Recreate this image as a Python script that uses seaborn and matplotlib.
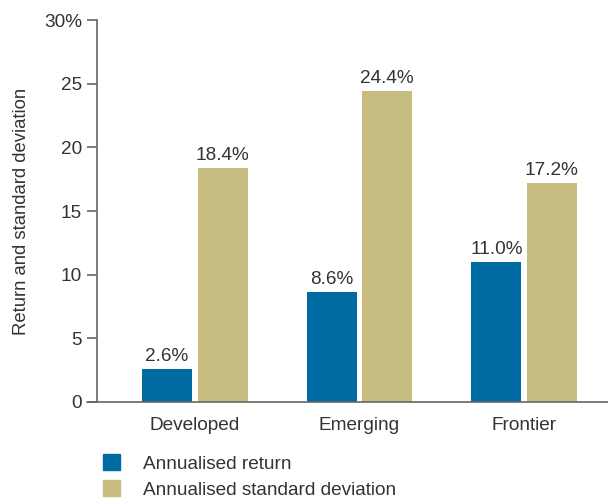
import matplotlib
matplotlib.use("Agg")
import matplotlib.pyplot as plt
import matplotlib.patches as mpatches
import seaborn as sns
import pandas as pd

markets = ["Developed", "Emerging", "Frontier"]
annual_return = [2.6, 8.6, 11.0]
annual_std = [18.4, 24.4, 17.2]
series_names = ["Annualised return", "Annualised standard deviation"]
colors = ["#006ba3", "#c8bd80"]

df = pd.DataFrame({
    "market": markets * 2,
    "series": [series_names[0]] * 3 + [series_names[1]] * 3,
    "value": annual_return + annual_std,
})

sns.set_style("white")
plt.rcParams["font.family"] = ["Liberation Sans", "DejaVu Sans"]
text_col = "#333333"
axis_col = "#666666"
fs = 13.7

fig = plt.figure(figsize=(6.08, 4.98), dpi=100)
ax = fig.add_axes([0.160, 0.1928, 0.840, 0.767])

sns.barplot(data=df, x="market", y="value", hue="series", palette=colors,
            width=0.675, gap=0.098, saturation=1, linewidth=0, legend=False, ax=ax)

for cont in ax.containers:
    ax.bar_label(cont, fmt="%.1f%%", padding=3, fontsize=fs, color=text_col)

ax.set_xlim(-0.593, 2.51)
ax.set_ylim(0, 30)
ax.set_yticks([0, 5, 10, 15, 20, 25, 30])
ax.set_yticklabels(["0", "5", "10", "15", "20", "25", "30%"])
ax.set_xlabel("")
ax.set_ylabel("Return and standard deviation", fontsize=13.3, color=text_col, labelpad=10)

for s in ["top", "right"]:
    ax.spines[s].set_visible(False)
ax.spines["left"].set_color(axis_col)
ax.spines["left"].set_linewidth(1.2)
ax.spines["bottom"].set_visible(False)
# x axis line running slightly left of the y spine
ax.plot([-0.02, 1.0], [0, 0], transform=ax.transAxes, color=axis_col,
        lw=1.2, clip_on=False)

ax.tick_params(axis="y", length=7, width=1.2, color=axis_col, labelsize=fs,
               labelcolor=text_col, pad=4, left=True)
ax.tick_params(axis="x", length=0, labelsize=fs, labelcolor=text_col, pad=11)

handles = [mpatches.Patch(color=c, label=n) for c, n in zip(colors, series_names)]
fig.legend(handles=handles, loc="upper left", bbox_to_anchor=(0.169, 0.088),
           frameon=False, fontsize=fs, handlelength=0.9, handleheight=0.9,
           handletextpad=1.2, labelspacing=0.4, labelcolor=text_col,
           borderaxespad=0, borderpad=0)

fig.savefig("out.png", dpi=100)
